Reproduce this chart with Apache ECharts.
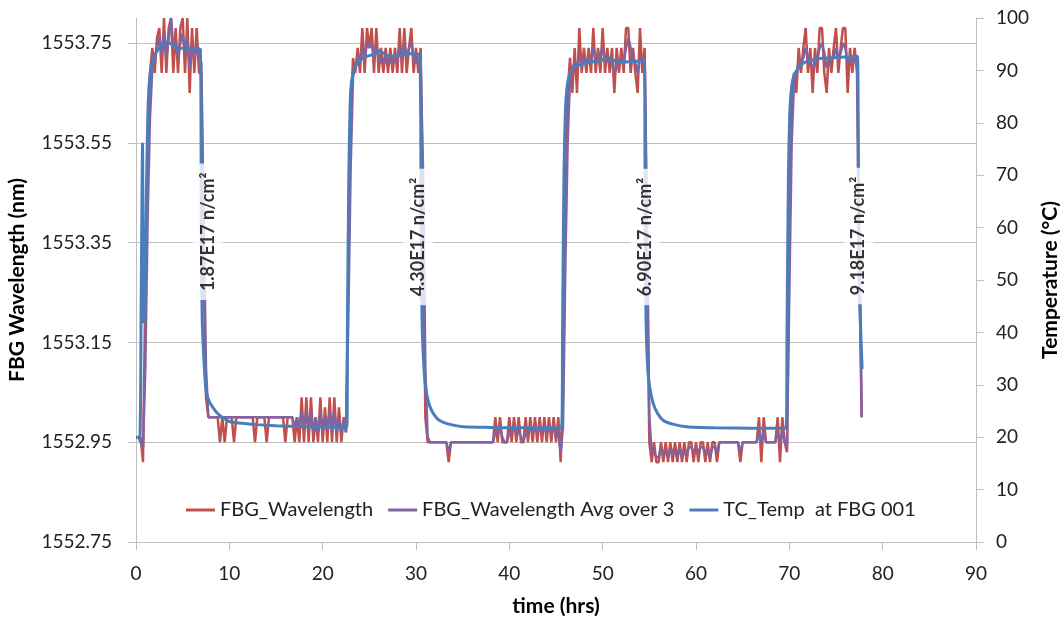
<!DOCTYPE html>
<html>
<head>
<meta charset="utf-8">
<script src="https://cdn.jsdelivr.net/npm/echarts@6/dist/echarts.min.js"></script>
<style>
html,body{margin:0;padding:0;background:#fff;}
#chart{width:1060px;height:619px;}
</style>
</head>
<body>
<div id="chart"></div>
<script>
// ---- data ----
const WL_BASE = 1552.75;          // left-axis minimum (nm)
const WL_START_HRS = 0;
const WL_STEP_HRS = 0.25;         // sampling interval of the FBG record
const xTicks = [0, 10, 20, 30, 40, 50, 60, 70, 80, 90];

const fbgWavelength = [
 1552.96,1552.96,1552.96,1552.91,1553.25,1553.55,1553.69,1553.74,
 1553.69,1553.76,1553.78,1553.69,1553.80,1553.69,1553.78,1553.80,
 1553.69,1553.78,1553.69,1553.78,1553.80,1553.69,1553.80,1553.65,
 1553.78,1553.69,1553.78,1553.69,1553.69,1553.30,1553.04,1553.00,
 1553.00,1553.00,1553.00,1553.00,1552.95,1553.00,1552.95,1553.00,
 1553.00,1553.00,1552.95,1553.00,1553.00,1553.00,1553.00,1553.00,
 1553.00,1553.00,1553.00,1552.95,1553.00,1553.00,1553.00,1553.00,
 1552.95,1553.00,1553.00,1553.00,1553.00,1553.00,1553.00,1553.00,
 1552.95,1553.00,1553.00,1553.00,1552.95,1553.00,1552.95,1553.04,
 1552.95,1553.04,1552.95,1553.04,1552.95,1553.00,1552.95,1553.04,
 1552.95,1553.02,1552.95,1553.04,1552.95,1553.04,1552.95,1553.02,
 1552.95,1553.00,1552.97,1553.30,1553.60,1553.72,1553.69,1553.74,
 1553.69,1553.78,1553.69,1553.78,1553.74,1553.78,1553.69,1553.78,
 1553.69,1553.74,1553.69,1553.74,1553.69,1553.74,1553.69,1553.74,
 1553.69,1553.78,1553.69,1553.78,1553.69,1553.74,1553.78,1553.69,
 1553.74,1553.69,1553.74,1553.40,1553.00,1552.95,1552.95,1552.95,
 1552.95,1552.95,1552.95,1552.95,1552.95,1552.95,1552.91,1552.95,
 1552.95,1552.95,1552.95,1552.95,1552.95,1552.95,1552.95,1552.95,
 1552.95,1552.95,1552.95,1552.95,1552.95,1552.95,1552.95,1552.95,
 1552.95,1552.95,1553.00,1552.95,1553.00,1552.95,1552.95,1552.95,
 1553.00,1552.95,1553.00,1552.95,1553.00,1552.95,1552.95,1553.00,
 1552.95,1553.00,1552.95,1553.00,1552.95,1553.00,1552.95,1553.00,
 1552.95,1553.00,1552.95,1553.00,1552.95,1553.00,1552.91,1553.04,
 1553.40,1553.65,1553.72,1553.65,1553.74,1553.65,1553.78,1553.69,
 1553.74,1553.69,1553.74,1553.69,1553.78,1553.69,1553.74,1553.69,
 1553.78,1553.69,1553.74,1553.69,1553.74,1553.65,1553.74,1553.69,
 1553.74,1553.69,1553.78,1553.78,1553.69,1553.74,1553.69,1553.65,
 1553.78,1553.69,1553.74,1553.30,1552.95,1552.91,1552.95,1552.91,
 1552.91,1552.95,1552.91,1552.95,1552.91,1552.95,1552.91,1552.95,
 1552.91,1552.95,1552.91,1552.95,1552.91,1552.95,1552.95,1552.91,
 1552.95,1552.91,1552.95,1552.95,1552.91,1552.95,1552.91,1552.95,
 1552.95,1552.91,1552.95,1552.95,1552.95,1552.95,1552.95,1552.95,
 1552.95,1552.95,1552.95,1552.91,1552.95,1552.95,1552.95,1552.95,
 1552.95,1552.95,1552.95,1553.00,1552.91,1553.00,1552.95,1552.95,
 1552.95,1552.95,1552.95,1553.00,1552.91,1553.00,1552.95,1552.93,
 1553.35,1553.65,1553.69,1553.65,1553.74,1553.69,1553.74,1553.78,
 1553.69,1553.74,1553.65,1553.74,1553.69,1553.78,1553.78,1553.69,
 1553.65,1553.74,1553.69,1553.74,1553.78,1553.69,1553.74,1553.78,
 1553.78,1553.65,1553.74,1553.69,1553.74,1553.69,1553.30,1553.00
];

const fbgAvg3 = [
 1552.96,1552.96,1552.95,1552.94,1553.10,1553.40,1553.60,1553.70,
 1553.72,1553.74,1553.76,1553.73,1553.77,1553.72,1553.76,1553.80,
 1553.74,1553.75,1553.72,1553.75,1553.77,1553.73,1553.76,1553.70,
 1553.74,1553.72,1553.75,1553.72,1553.71,1553.40,1553.10,1553.00,
 1553.00,1553.00,1553.00,1553.00,1553.00,1553.00,1553.00,1553.00,
 1553.00,1553.00,1553.00,1553.00,1553.00,1553.00,1553.00,1553.00,
 1553.00,1553.00,1553.00,1553.00,1553.00,1553.00,1553.00,1553.00,
 1553.00,1553.00,1553.00,1553.00,1553.00,1553.00,1553.00,1553.00,
 1553.00,1553.00,1553.00,1553.00,1552.98,1553.00,1552.98,1553.01,
 1552.98,1553.01,1552.98,1553.01,1552.97,1553.00,1552.97,1553.01,
 1552.97,1553.00,1552.98,1553.01,1552.97,1553.01,1552.97,1553.00,
 1552.97,1552.99,1552.97,1553.20,1553.50,1553.68,1553.71,1553.72,
 1553.71,1553.74,1553.72,1553.75,1553.74,1553.75,1553.72,1553.74,
 1553.72,1553.71,1553.72,1553.71,1553.72,1553.71,1553.72,1553.71,
 1553.72,1553.74,1553.72,1553.75,1553.72,1553.74,1553.75,1553.72,
 1553.71,1553.72,1553.71,1553.50,1553.10,1552.96,1552.95,1552.95,
 1552.95,1552.95,1552.95,1552.95,1552.95,1552.95,1552.93,1552.95,
 1552.95,1552.95,1552.95,1552.95,1552.95,1552.95,1552.95,1552.95,
 1552.95,1552.95,1552.95,1552.95,1552.95,1552.95,1552.95,1552.95,
 1552.95,1552.95,1552.97,1552.97,1552.98,1552.96,1552.95,1552.95,
 1552.97,1552.97,1552.98,1552.97,1552.97,1552.96,1552.95,1552.97,
 1552.97,1552.98,1552.97,1552.98,1552.97,1552.98,1552.97,1552.98,
 1552.97,1552.98,1552.97,1552.98,1552.96,1552.97,1552.93,1552.98,
 1553.30,1553.55,1553.68,1553.70,1553.71,1553.70,1553.72,1553.71,
 1553.72,1553.71,1553.72,1553.71,1553.74,1553.72,1553.72,1553.73,
 1553.74,1553.72,1553.72,1553.71,1553.71,1553.69,1553.70,1553.71,
 1553.72,1553.71,1553.74,1553.76,1553.74,1553.72,1553.71,1553.69,
 1553.72,1553.72,1553.72,1553.40,1553.00,1552.93,1552.93,1552.92,
 1552.92,1552.94,1552.93,1552.93,1552.92,1552.94,1552.93,1552.93,
 1552.92,1552.94,1552.92,1552.93,1552.93,1552.94,1552.94,1552.93,
 1552.93,1552.93,1552.94,1552.94,1552.93,1552.93,1552.92,1552.94,
 1552.94,1552.93,1552.95,1552.95,1552.95,1552.95,1552.95,1552.95,
 1552.95,1552.95,1552.95,1552.93,1552.95,1552.95,1552.95,1552.95,
 1552.95,1552.95,1552.95,1552.97,1552.95,1552.97,1552.95,1552.95,
 1552.95,1552.95,1552.95,1552.97,1552.95,1552.97,1552.95,1552.94,
 1553.25,1553.55,1553.67,1553.69,1553.71,1553.71,1553.72,1553.74,
 1553.72,1553.71,1553.70,1553.71,1553.72,1553.74,1553.75,1553.73,
 1553.70,1553.71,1553.72,1553.72,1553.74,1553.72,1553.73,1553.75,
 1553.74,1553.71,1553.72,1553.71,1553.72,1553.72,1553.40,1553.00
];

const tcHours = [
 0,0.4,0.55,0.7,0.8,0.95,1.1,1.25,1.4,1.6,1.9,2.3,2.8,3.3,3.8,4.2,4.8,5.5,6.3,6.9,
 7.0,7.1,7.3,7.5,7.8,8.2,8.7,9.3,10,11,13,15,18,22.6,
 22.65,22.8,22.95,23.1,23.3,23.6,24.0,24.6,25.3,26.0,26.4,27.0,27.8,28.6,29.5,30.4,
 30.55,30.65,30.8,31.0,31.3,31.7,32.3,33,34,35,37,40,45.6,
 45.7,45.85,46.0,46.2,46.5,46.9,47.5,48.5,49.5,50.4,50.8,51.3,52,53,54,54.45,
 54.55,54.65,54.8,55.0,55.4,55.9,56.5,57.5,59,62,66,69.65,
 69.75,69.9,70.05,70.25,70.5,71,71.6,72.5,73.5,74.5,75.5,76.5,77.3,
 77.4,77.5,77.8
];
const tcTemp = [
 20,20,45,76,42,45,65,80,87,90.5,92.5,93.8,94.8,95.4,95.0,94.4,94.2,94.3,94.2,94.0,
 55,42,34,29,27,25.8,24.6,23.7,23.0,22.7,22.4,22.2,22.0,21.9,
 40,70,84,88,89.5,91,92,92.6,93,93.8,93.4,92.8,92.7,93,93.2,93,
 60,42,35,30,27,25,23.5,22.8,22.3,22.0,21.9,21.8,21.8,
 40,70,82,87,89.5,90.5,91,91.5,91.8,92.2,92.4,91.8,91.6,91.7,91.8,91.8,
 60,42,34,30,26.5,24.5,23.2,22.5,22,21.8,21.7,21.7,
 40,70,82,87,89,90.5,91.5,92,92.3,92.4,92.5,92.6,92.7,
 60,48,33
];

const doseHours = [7.71, 30.2, 54.6, 77.4];
const doseTemp = [59.2, 58.2, 58.2, 58.4];
const doseLabels = ['1.87E17 n/cm²', '4.30E17 n/cm²', '6.90E17 n/cm²', '9.18E17 n/cm²'];

const seriesNames = ['FBG_Wavelength', 'FBG_Wavelength Avg over 3', 'TC_Temp  at FBG 001'];
// ---- end data ----

const FONT = 'Lato';
const wlData = fbgWavelength.map((v, i) => [WL_START_HRS + i * WL_STEP_HRS, v - WL_BASE]);
const avgData = fbgAvg3.map((v, i) => [WL_START_HRS + i * WL_STEP_HRS, v - WL_BASE]);
const tcData = tcHours.map((h, i) => [h, tcTemp[i]]);
const doseData = doseHours.map((h, i) => [h, doseTemp[i], doseLabels[i]]);

const chart = echarts.init(document.getElementById('chart'), null, {renderer: 'canvas'});
const axisGray = '#BFBFBF';
chart.setOption({
  animation: false,
  backgroundColor: '#ffffff',
  textStyle: {fontFamily: FONT},
  grid: {left: 136, right: 84, top: 18, bottom: 77, containLabel: false, outerBoundsMode: 'none'},
  legend: {
    data: seriesNames,
    orient: 'horizontal',
    left: 181, top: 495, width: 800,
    icon: 'rect',
    itemWidth: 29, itemHeight: 3, itemGap: 15,
    textStyle: {fontFamily: FONT, fontSize: 20, color: '#222'}
  },
  xAxis: {
    type: 'value', min: 0, max: 90, interval: 10,
    name: 'time (hrs)', nameLocation: 'middle', nameGap: 54,
    nameTextStyle: {fontFamily: FONT, fontWeight: 'bold', fontSize: 21, color: '#000'},
    axisLine: {show: true, onZero: false, lineStyle: {color: axisGray, width: 1}},
    axisTick: {show: true, inside: false, length: 8, lineStyle: {color: axisGray}},
    axisLabel: {fontFamily: FONT, fontSize: 19, color: '#222', margin: 22},
    splitLine: {show: false}
  },
  yAxis: [
    {
      type: 'value', min: 0, max: 1.05, interval: 0.2, position: 'left',
      name: 'FBG Wavelength (nm)', nameLocation: 'middle', nameGap: 108, nameRotate: 90,
      nameTextStyle: {fontFamily: FONT, fontWeight: 'bold', fontSize: 21, color: '#000'},
      axisLine: {show: true, lineStyle: {color: axisGray, width: 1}},
      axisTick: {show: true, inside: false, length: 8, lineStyle: {color: axisGray}},
      axisLabel: {
        fontFamily: FONT, fontSize: 19, color: '#222', margin: 24,
        showMaxLabel: false,
        formatter: v => (v > 1.0001 ? '' : (v + WL_BASE).toFixed(2))
      },
      splitLine: {show: true, showMaxLine: false, lineStyle: {color: axisGray, width: 1}}
    },
    {
      type: 'value', min: 0, max: 100, interval: 10, position: 'right',
      name: 'Temperature (°C)', nameLocation: 'middle', nameGap: 59, nameRotate: 90,
      nameTextStyle: {fontFamily: FONT, fontWeight: 'bold', fontSize: 21, color: '#000'},
      axisLine: {show: true, lineStyle: {color: axisGray, width: 1}},
      axisTick: {show: true, inside: false, length: 8, lineStyle: {color: axisGray}},
      axisLabel: {fontFamily: FONT, fontSize: 19, color: '#222', margin: 20},
      splitLine: {show: false}
    }
  ],
  series: [
    {
      name: seriesNames[0], type: 'line', yAxisIndex: 0, data: wlData,
      showSymbol: false, symbol: 'none',
      lineStyle: {color: '#C0504D', width: 2.5}, itemStyle: {color: '#C0504D'}, z: 2
    },
    {
      name: seriesNames[1], type: 'line', yAxisIndex: 0, data: avgData,
      showSymbol: false, symbol: 'none',
      lineStyle: {color: '#8064A2', width: 2.5}, itemStyle: {color: '#8064A2'}, z: 3
    },
    {
      name: seriesNames[2], type: 'line', yAxisIndex: 1, data: tcData,
      showSymbol: false, symbol: 'none', smooth: 0.2,
      lineStyle: {color: '#4A7EBB', width: 3}, itemStyle: {color: '#4A7EBB'}, z: 4
    },
    {
      name: 'dose', type: 'scatter', yAxisIndex: 1, data: doseData,
      symbolSize: 1, itemStyle: {color: 'rgba(0,0,0,0)'}, silent: true, z: 10,
      label: {
        show: true, position: 'inside', rotate: 90,
        formatter: p => p.value[2],
        fontFamily: FONT, fontWeight: 'bold', fontSize: 18, color: '#000',
        backgroundColor: '#ffffff', padding: [6, 9, 6, 9]
      }
    }
  ]
});
</script>
</body>
</html>
